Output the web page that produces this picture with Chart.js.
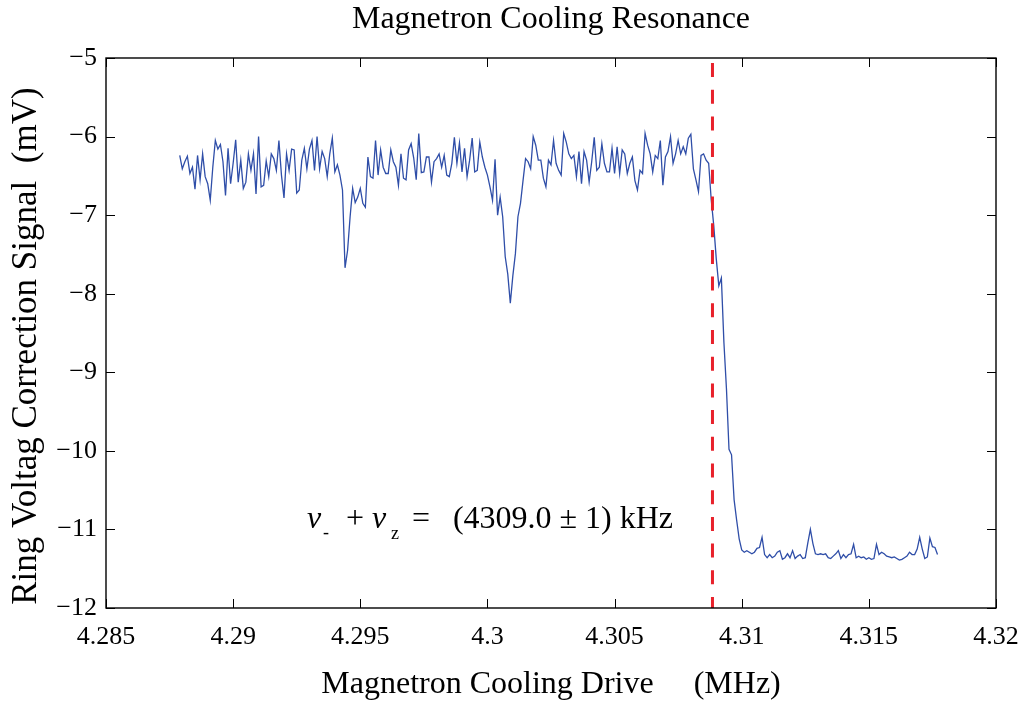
<!DOCTYPE html>
<html>
<head>
<meta charset="utf-8">
<script src="https://cdn.jsdelivr.net/npm/chart.js@4.4.1/dist/chart.umd.min.js"></script>
<style>
  html, body { margin: 0; padding: 0; background: #fff; }
</style>
</head>
<body>
<canvas id="grafica" width="1021" height="704"></canvas>
<script>
// Texts
const titulo = "Magnetron Cooling Resonance";
const tituloX = "Magnetron Cooling Drive     (MHz)";
const tituloY = "Ring Voltag Correction Signal  (mV)   ";

// Axis ticks
const xTicks = [4.285, 4.29, 4.295, 4.3, 4.305, 4.31, 4.315, 4.32];
const xTickLabels = ["4.285", "4.29", "4.295", "4.3", "4.305", "4.31", "4.315", "4.32"];
const yTicks = [-12, -11, -10, -9, -8, -7, -6, -5];
const yTickLabels = ["\u221212", "\u221211", "\u221210", "\u22129", "\u22128", "\u22127", "\u22126", "\u22125"];

// Frequency sweep (MHz): first point and step
const freqInicio = 4.2879;
const freqPaso = 0.0001;

// Ring voltage correction signal (mV), one value per sweep step
const senal = [
  -6.24, -6.41, -6.32, -6.25, -6.47, -6.39, -6.67, -6.24, -6.55, -6.22,
  -6.51, -6.60, -6.81, -6.39, -6.05, -6.16, -6.10, -6.32, -6.75, -6.15,
  -6.60, -6.34, -6.04, -6.58, -6.30, -6.66, -6.58, -6.22, -6.43, -6.22,
  -6.73, -6.00, -6.64, -6.62, -6.31, -6.51, -6.22, -6.28, -6.43, -6.05,
  -6.49, -6.78, -6.22, -6.43, -6.16, -6.17, -6.72, -6.68, -6.30,
  -6.15, -6.41, -6.16, -6.05, -6.43, -6.00, -6.41, -6.19, -6.28, -6.51,
  -6.22, -6.02, -6.45, -6.36, -6.49, -6.68, -7.67,
  -7.45, -7.02, -6.66, -6.84, -6.77, -6.66, -6.85, -6.90, -6.26, -6.51,
  -6.53, -6.05, -6.49, -6.17, -6.39, -6.47, -6.47, -6.17, -6.32, -6.39,
  -6.62, -6.22, -6.53, -6.55, -6.17, -6.09, -6.27, -6.55, -5.96, -6.46,
  -6.45, -6.26, -6.26, -6.58, -6.32, -6.28, -6.22, -6.39, -6.24, -6.49,
  -6.51, -6.34, -6.01, -6.34, -6.08, -6.45, -6.15, -6.51, -6.30, -6.02,
  -6.45, -6.43, -6.07, -6.26, -6.39, -6.49, -6.64, -6.81, -6.29, -7.00,
  -6.77, -7.02, -7.53, -7.75, -8.12, -7.77, -7.49, -7.02, -6.85, -6.56,
  -6.28, -6.32, -6.41, -6.00, -6.11, -6.30, -6.30, -6.53,
  -6.64, -6.30, -6.36, -6.05, -6.34, -6.43, -6.49, -5.96, -6.07, -6.22,
  -6.28, -6.24, -6.51, -6.19, -6.60, -6.19, -6.30, -6.58, -6.32, -6.01,
  -6.43, -6.39, -6.09, -6.34, -6.45, -6.45, -6.15, -6.47, -6.13, -6.47,
  -6.17, -6.22, -6.47, -6.34, -6.26, -6.56, -6.68, -6.43, -6.47, -5.96,
  -6.11, -6.22, -6.45, -6.24,
  -6.28, -6.05, -6.62, -6.26, -6.19, -6.00, -6.34, -6.22, -6.05, -6.22,
  -6.13, -6.22, -6.02, -5.97, -6.41, -6.55, -6.70, -6.24, -6.22, -6.30,
  -6.34, -6.80, -7.13, -7.56, -7.90, -7.80, -8.62, -9.21, -9.98, -10.05,
  -10.62, -10.88, -11.12, -11.26, -11.29,
  -11.27, -11.29, -11.31, -11.29, -11.24, -11.23, -11.10, -11.32, -11.36, -11.32,
  -11.36, -11.34, -11.29, -11.27, -11.38, -11.36, -11.31, -11.36, -11.27, -11.37,
  -11.34, -11.32, -11.37, -11.36, -11.17, -11.00, -11.18, -11.31, -11.32, -11.31,
  -11.32, -11.31, -11.36, -11.37, -11.34, -11.31, -11.27, -11.37, -11.32, -11.36,
  -11.32, -11.31, -11.19, -11.36, -11.34, -11.36, -11.35, -11.38, -11.36, -11.38,
  -11.37, -11.19, -11.32, -11.29, -11.31, -11.34, -11.35, -11.36, -11.35, -11.37,
  -11.39, -11.38, -11.36, -11.34, -11.29, -11.32, -11.32, -11.25, -11.10, -11.25,
  -11.37, -11.35, -11.11, -11.22, -11.23, -11.32
];

// Resonance marker (MHz)
const resonancia = 4.30885;

const fuente = "'Liberation Serif', 'Times New Roman', serif";

document.addEventListener("DOMContentLoaded", () => {
  const ctx = document.getElementById("grafica").getContext("2d");

  const puntos = senal.map((v, i) => ({ x: freqInicio + i * freqPaso, y: v }));

  // Box, inward tick marks and the annotation text
  const marco = {
    id: "marco",
    afterDraw(chart) {
      const { ctx, chartArea: a, scales: { x, y } } = chart;
      ctx.save();
      ctx.strokeStyle = "#000";
      ctx.lineWidth = 1.4;
      ctx.strokeRect(a.left, a.top, a.right - a.left, a.bottom - a.top);

      ctx.lineWidth = 1;
      ctx.beginPath();
      xTicks.forEach(v => {
        const px = Math.round(x.getPixelForValue(v)) + 0.5;
        ctx.moveTo(px, a.bottom); ctx.lineTo(px, a.bottom - 9);
        ctx.moveTo(px, a.top); ctx.lineTo(px, a.top + 9);
      });
      yTicks.forEach(v => {
        const py = Math.round(y.getPixelForValue(v)) + 0.5;
        ctx.moveTo(a.left, py); ctx.lineTo(a.left + 9, py);
        ctx.moveTo(a.right, py); ctx.lineTo(a.right - 9, py);
      });
      ctx.stroke();

      // v- + vz = (4309.0 ± 1) kHz
      const x0 = x.getPixelForValue(4.2929);
      const base = y.getPixelForValue(-10.98);
      ctx.fillStyle = "#000";
      ctx.textBaseline = "alphabetic";
      ctx.textAlign = "left";
      ctx.font = "italic 32px " + fuente;
      ctx.fillText("v", x0, base);
      ctx.fillText("v", x0 + 65, base);
      ctx.font = "18px " + fuente;
      ctx.fillText("-", x0 + 16, base + 10);
      ctx.fillText("z", x0 + 84, base + 11);
      ctx.font = "32px " + fuente;
      ctx.fillText("+", x0 + 39, base);
      ctx.fillText("=", x0 + 105, base);
      ctx.fillText("(4309.0 \u00b1 1) kHz", x0 + 146, base);
      ctx.restore();
    }
  };

  new Chart(ctx, {
    type: "line",
    data: {
      datasets: [
        {
          data: [{ x: resonancia, y: yTicks[yTicks.length - 1] }, { x: resonancia, y: yTicks[0] }],
          borderColor: "#e8212b",
          borderWidth: 3,
          borderDash: [14, 12.7],
          borderDashOffset: 21.7,
          pointRadius: 0,
          order: 0,
        },
        {
          data: puntos,
          borderColor: "#2f4ea8",
          borderWidth: 1.3,
          pointRadius: 0,
          tension: 0,
          order: 1,
        },
      ],
    },
    options: {
      responsive: false,
      animation: false,
      devicePixelRatio: 1,
      layout: { padding: { left: 0, right: 25, top: 0, bottom: 0 } },
      plugins: {
        legend: { display: false },
        tooltip: { enabled: false },
        title: {
          display: true,
          text: titulo,
          fullSize: false,
          color: "#000",
          font: { family: fuente, size: 32, weight: "normal" },
          padding: { top: 0, bottom: 19.6 },
        },
      },
      scales: {
        x: {
          type: "linear",
          min: xTicks[0],
          max: xTicks[xTicks.length - 1],
          afterBuildTicks: scale => { scale.ticks = xTicks.map(v => ({ value: v })); },
          afterFit: scale => {
            scale.height = 96;
            scale.paddingLeft = 0;
            scale.paddingRight = 0;
          },
          grid: { display: false, drawTicks: false },
          border: { display: false },
          ticks: {
            color: "#000",
            padding: 14,
            maxRotation: 0,
            autoSkip: false,
            font: { family: fuente, size: 26 },
            callback: (v, i) => xTickLabels[i],
          },
          title: {
            display: true,
            text: tituloX,
            color: "#000",
            font: { family: fuente, size: 32 },
            padding: { top: 0, bottom: 0 },
          },
        },
        y: {
          type: "linear",
          min: yTicks[0],
          max: yTicks[yTicks.length - 1],
          afterBuildTicks: scale => { scale.ticks = yTicks.map(v => ({ value: v })); },
          afterFit: scale => {
            scale.width = 106;
            scale.paddingTop = 0;
            scale.paddingBottom = 0;
          },
          grid: { display: false, drawTicks: false },
          border: { display: false },
          ticks: {
            color: "#000",
            padding: 9,
            autoSkip: false,
            font: { family: fuente, size: 26 },
            callback: (v, i) => yTickLabels[i],
          },
          title: {
            display: true,
            text: tituloY,
            color: "#000",
            font: { family: fuente, size: 35 },
            padding: { top: 6, bottom: 0 },
          },
        },
      },
    },
    plugins: [marco],
  });
});
</script>
</body>
</html>
